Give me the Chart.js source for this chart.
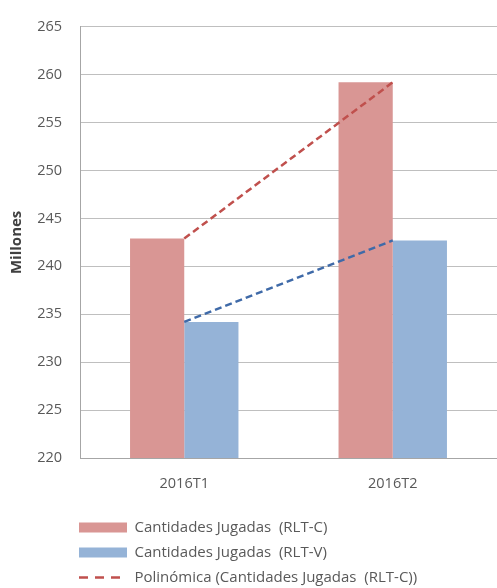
<!DOCTYPE html>
<html>
<head>
<meta charset="utf-8">
<script src="https://cdn.jsdelivr.net/npm/chart.js@4/dist/chart.umd.min.js"></script>
<style>
html,body{margin:0;padding:0;background:#fff;}
#wrap{width:497px;height:588px;}
</style>
</head>
<body>
<div id="wrap"><canvas id="c" width="497" height="588"></canvas></div>
<script>
const categories = ['2016T1', '2016T2'];
const seriesC = [242.9, 259.2];
const seriesV = [234.2, 242.7];
const trendC = [242.9, 259.2];
const trendV = [234.2, 242.7];
const labelC = 'Cantidades Jugadas  (RLT-C)';
const labelV = 'Cantidades Jugadas  (RLT-V)';
const labelTrendC = 'Polinómica (Cantidades Jugadas  (RLT-C))';
const labelTrendV = 'Polinómica (Cantidades Jugadas  (RLT-V))';
const yTitle = 'Millones';

const FONT = '"Open Sans", "DejaVu Sans", sans-serif';

const legendShift = {
  id: 'legendShift',
  afterLayout(chart) {
    const lg = chart.legend;
    if (!lg) return;
    const pad = lg.options.labels.padding;
    const dx = chart.chartArea.left - 1 - pad - lg.left;
    lg.left += dx; lg.right += dx;
    lg.top += 7; lg.bottom += 7;
  }
};

new Chart(document.getElementById('c'), {
  type: 'bar',
  data: {
    labels: categories,
    datasets: [
      { type: 'bar', label: labelC, data: seriesC, backgroundColor: '#d99694', borderWidth: 0, order: 2,
        categoryPercentage: 0.52, barPercentage: 1 },
      { type: 'bar', label: labelV, data: seriesV, backgroundColor: '#95b3d7', borderWidth: 0, order: 2,
        categoryPercentage: 0.52, barPercentage: 1 },
      { type: 'line', label: labelTrendC, data: trendC, borderColor: '#c0504d', backgroundColor: '#c0504d',
        borderWidth: 2.5, borderDash: [7, 4], pointRadius: 0, fill: false, tension: 0, order: 0 },
      { type: 'line', label: labelTrendV, data: trendV, borderColor: '#3f6aa8', backgroundColor: '#3f6aa8',
        borderWidth: 2.5, borderDash: [7, 4], pointRadius: 0, fill: false, tension: 0, order: 0 }
    ]
  },
  options: {
    responsive: false,
    animation: false,
    layout: { padding: { top: 22, right: 0, left: 0, bottom: 0 } },
    scales: {
      x: {
        grid: { display: true, color: 'rgba(0,0,0,0)', drawTicks: false },
        border: { display: true, color: '#a6a6a6', width: 1 },
        ticks: { color: '#595959', font: { family: FONT, size: 14.5 }, padding: 17 },
        afterFit(s) { s.height = 45; }
      },
      y: {
        min: 220, max: 265,
        grid: { color: '#bfbfbf', drawTicks: false, lineWidth: 1 },
        border: { display: true, color: '#a6a6a6', width: 1 },
        ticks: { stepSize: 5, color: '#595959', font: { family: FONT, size: 14.5 }, padding: 18 },
        title: { display: true, text: yTitle, color: '#404040', font: { family: FONT, size: 15, weight: 'bold' },
                 padding: { top: 8, bottom: 0 } },
        afterFit(s) { s.width = 80; }
      }
    },
    plugins: {
      tooltip: { enabled: false },
      legend: {
        position: 'bottom',
        align: 'start',
        labels: {
          color: '#595959',
          font: { family: FONT, size: 15 },
          padding: 10,
          usePointStyle: true,
          pointStyleWidth: 48,
          boxWidth: 48,
          boxHeight: 10,
          filter: (item) => item.datasetIndex !== 3,
          sort: (a, b) => a.datasetIndex - b.datasetIndex,
          generateLabels(chart) {
            const items = Chart.defaults.plugins.legend.labels.generateLabels(chart);
            return items.map(it => {
              const ds = chart.data.datasets[it.datasetIndex];
              if (ds.type === 'line') {
                it.pointStyle = 'line';
                it.lineDash = [9, 7];
                it.lineWidth = 2.5;
                it.strokeStyle = ds.borderColor;
              } else {
                it.pointStyle = 'rect';
                it.lineWidth = 0;
                it.fillStyle = ds.backgroundColor;
              }
              return it;
            });
          }
        }
      }
    }
  },
  plugins: [legendShift]
});
</script>
</body>
</html>
